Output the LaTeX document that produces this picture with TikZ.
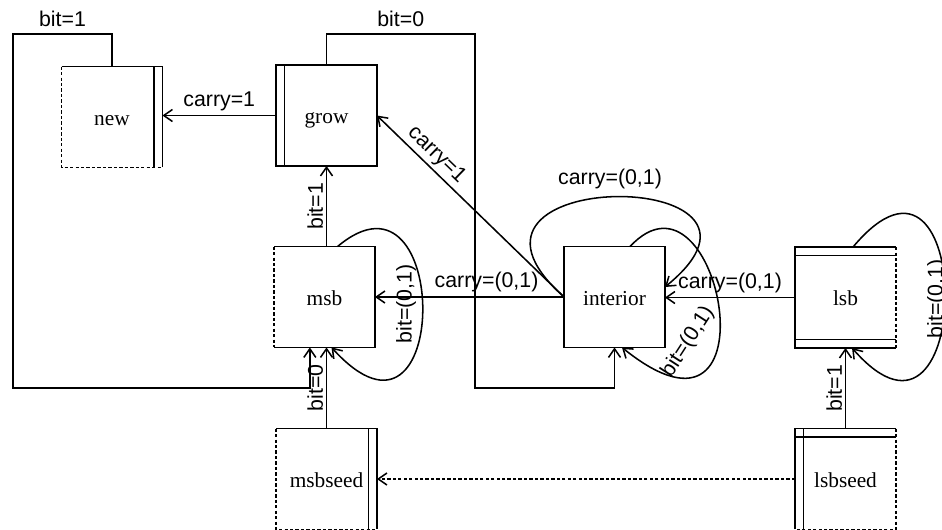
\documentclass[tikz,border=0pt]{standalone}
\usepackage{fontspec}
\setmainfont{Liberation Serif}
\setsansfont{Liberation Sans}
\usetikzlibrary{arrows.meta}
\begin{document}
\begin{tikzpicture}[x=0.75pt,y=-0.75pt,line width=1.15pt,
  box/.style={minimum width=74.5pt,minimum height=74.5pt,inner sep=0pt,text height=14pt,text depth=2pt,font=\fontsize{16}{19}\selectfont},
  dsh/.style={dash pattern=on 2.5pt off 1.6pt},
  arr/.style={-{Straight Barb[length=6.5pt,width=9pt]}},
  lbl/.style={font=\sffamily\fontsize{16}{19}\selectfont,inner sep=2pt}]
\useasboundingbox (0,0) rectangle (942,529);

% nodes
\node[box] (new) at (112,117) {new};
\node[box] (grow) at (326.5,115.5) {grow};
\node[box] (msb) at (324.5,297) {msb};
\node[box] (interior) at (614.5,297) {interior};
\node[box] (lsb) at (845.5,297.5) {lsb};
\node[box] (msbseed) at (326.5,479) {msbseed};
\node[box] (lsbseed) at (845.5,479) {lsbseed};

% borders: new
\draw[dsh] (new.north west) -- (new.south west) -- (new.south east);
\draw (new.north west) -- (new.north east) -- (new.south east);
\draw ([xshift=-6.4pt]new.north east) -- ([xshift=-6.4pt]new.south east);
% grow
\draw (grow.north west) rectangle (grow.south east);
\draw ([xshift=6.4pt]grow.north west) -- ([xshift=6.4pt]grow.south west);
% msb
\draw[dsh] (msb.north west) -- (msb.south west);
\draw (msb.north west) -- (msb.north east) -- (msb.south east) -- (msb.south west);
% interior
\draw (interior.north west) rectangle (interior.south east);
% lsb
\draw (lsb.north east) -- (lsb.north west) -- (lsb.south west) -- (lsb.south east);
\draw[dsh] (lsb.north east) -- (lsb.south east);
\draw ([yshift=-6.4pt]lsb.north west) -- ([yshift=-6.4pt]lsb.north east);
\draw ([yshift=6.4pt]lsb.south west) -- ([yshift=6.4pt]lsb.south east);
% msbseed
\draw[dsh] (msbseed.north west) -- (msbseed.south west) -- (msbseed.south east);
\draw (msbseed.north west) -- (msbseed.north east) -- (msbseed.south east);
\draw ([xshift=-6.4pt]msbseed.north east) -- ([xshift=-6.4pt]msbseed.south east);
% lsbseed
\draw (lsbseed.south west) -- (lsbseed.north west) -- (lsbseed.north east);
\draw[dsh] (lsbseed.north east) -- (lsbseed.south east) -- (lsbseed.south west);
\draw ([xshift=6.4pt]lsbseed.north west) -- ([xshift=6.4pt]lsbseed.south west);
\draw ([yshift=-6.4pt]lsbseed.north west) -- ([yshift=-6.4pt]lsbseed.north east);

% connectors
\draw[arr] (grow.west) -- node[lbl,above=1pt]{carry=1} (grow.west -| new.east);
\draw[arr] (grow.south |- msb.north) -- node[lbl,sloped,above]{bit=1} (grow.south);
\draw[arr] (interior.west) -- node[lbl,sloped,above,pos=0.73]{carry=1} (grow.east);
\draw[arr] (interior.west) -- node[lbl,above=1pt,pos=0.41]{carry=(0,1)} (msb.east);
\draw[arr] (lsb.west) -- node[lbl,above=1pt]{carry=(0,1)} (lsb.west -| interior.east);
\draw[arr] (lsbseed.north) -- node[lbl,sloped,above]{bit=1} (lsb.south);
\draw[arr] (msbseed.north) -- node[lbl,sloped,above]{bit=0} (msbseed.north |- msb.south);
\draw[arr,dsh] (lsbseed.west) -- (msbseed.east);

% self loops
\draw[arr] (interior.west) .. controls (415,165) and (815,165) .. ([yshift=7.5pt]interior.east);
\node[lbl] (lblA) at (610,179) {carry=(0,1)};
\draw[arr] ([xshift=11.6pt]interior.north) .. controls (720,150) and (780,475) .. ([xshift=5.6pt]interior.south);
\node[lbl,rotate=57] (lblB) at (688,342) {bit=(0,1)};
\draw[arr] ([xshift=9.75pt]msb.north) .. controls (452,150) and (452,480) .. ([xshift=5.25pt]msb.south);
\node[lbl,rotate=90] (lblC) at (406,304) {bit=(0,1)};
\draw[arr] ([xshift=5.6pt]lsb.north) .. controls (976,100) and (976,490) .. ([xshift=4.9pt]lsb.south);
\node[lbl,rotate=90] (lblD) at (937,299) {bit=(0,1)};

% elbow connectors
\coordinate (nA) at (13,34);
\coordinate (nB) at (13,388);
\draw[arr] (new.north) |- node[lbl,pos=0.75,above=3pt]{bit=1} (nA) -- (nB) -| ([xshift=-11pt]msb.south);
\coordinate (gA) at (475,34);
\coordinate (gB) at (475,388);
\draw[arr] (grow.north) |- node[lbl,pos=0.75,above=3pt]{bit=0} (gA) -- (gB) -| (interior.south);
\end{tikzpicture}
\end{document}
